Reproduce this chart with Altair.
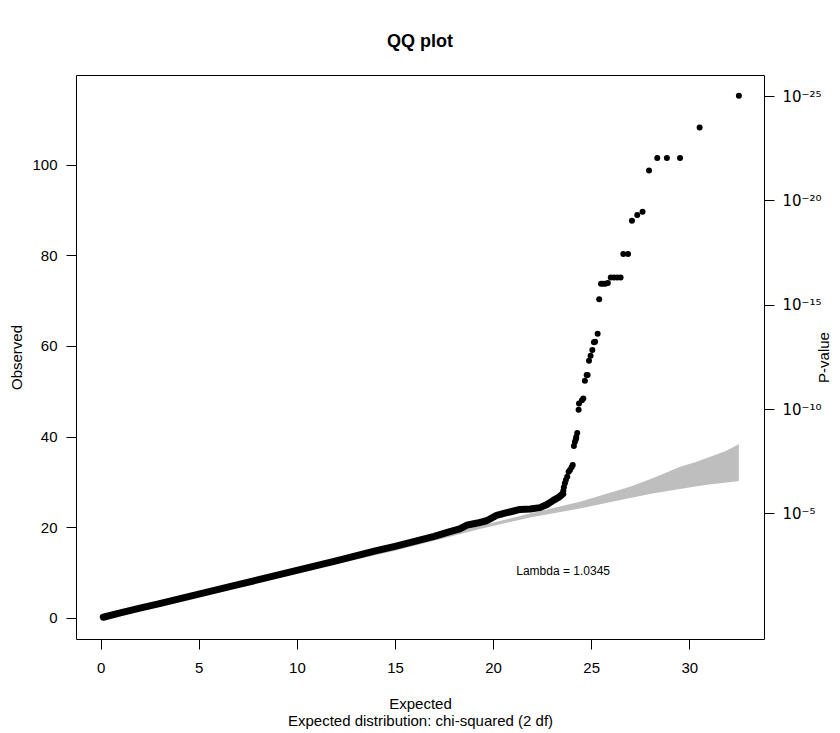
import altair as alt
import pandas as pd
import math

# ---- data ----
bulk_expected = [0.13, 1, 2, 3, 4, 5, 6, 7, 8, 9, 10, 11, 12, 13, 14, 15, 16, 17,
                 17.8, 18.3, 18.65, 19.2, 19.67, 20.18, 20.6, 21.0, 21.37, 21.9,
                 22.39, 22.75, 23.07, 23.35, 23.55]
bulk_observed = [0.1, 1.05, 2.1, 3.1, 4.15, 5.2, 6.25, 7.3, 8.35, 9.4, 10.45, 11.5,
                 12.55, 13.65, 14.75, 15.75, 16.85, 17.95, 19.0, 19.6, 20.4, 20.9, 21.4,
                 22.6, 23.1, 23.5, 23.9, 24.0, 24.3, 25.0, 25.9, 26.6, 27.3]

tail_expected = [23.58, 23.61, 23.66, 23.71, 23.78, 23.85, 23.92, 24.0, 24.06, 24.12,
                 24.17, 24.22, 24.24, 24.29, 24.36, 24.38, 24.53, 24.6, 24.68, 24.77,
                 24.82, 24.89, 24.97, 25.06, 25.14, 25.2, 25.33, 25.41, 25.5, 25.6,
                 25.72, 25.85, 26.0, 26.17, 26.33, 26.5, 26.64, 26.88, 27.08, 27.35,
                 27.62, 27.95, 28.37, 28.86, 29.53, 30.53, 32.53]
tail_observed = [28.0, 28.8, 29.7, 30.4, 31.1, 32.2, 32.6, 33.2, 33.7, 37.9,
                 38.8, 39.4, 39.9, 40.8, 45.9, 47.3, 48.0, 48.4, 52.3, 53.6,
                 53.6, 56.7, 57.8, 59.1, 60.8, 60.9, 62.7, 70.3, 73.7, 73.7,
                 73.7, 73.9, 75.1, 75.1, 75.1, 75.1, 80.3, 80.3, 87.6, 88.9,
                 89.6, 98.7, 101.5, 101.5, 101.5, 108.2, 115.2]

band_expected = [0, 5, 10, 15, 19.33, 21.88, 24.43, 26.98, 28.2, 29.53, 30.3, 31.0,
                 31.8, 32.53]
band_lower = [0, 4.9, 9.85, 14.8, 19.6, 22.1, 24.1, 26.4, 27.45, 28.4, 28.95, 29.4,
              29.8, 30.2]
band_upper = [0.1, 5.1, 10.2, 15.3, 20.3, 23.0, 25.6, 28.9, 30.9, 33.3, 34.3, 35.4,
              36.7, 38.3]

x_ticks = [0, 5, 10, 15, 20, 25, 30]
y_ticks = [0, 20, 40, 60, 80, 100]
p_exponents = [5, 10, 15, 20, 25]
p_labels = ["10\u207b\u2075", "10\u207b\u00b9\u2070", "10\u207b\u00b9\u2075",
            "10\u207b\u00b2\u2070", "10\u207b\u00b2\u2075"]
lambda_x = [23.57]
lambda_y = [10.3]
lambda_text = ["Lambda = 1.0345"]

FONT = "Liberation Sans"
XDOM = [-1.259, 33.81]
YDOM = [-4.70, 119.80]

band_df = pd.DataFrame({"e": band_expected, "lo": band_lower, "hi": band_upper})
bulk_df = pd.DataFrame({"e": bulk_expected, "o": bulk_observed})
tail_df = pd.DataFrame({"e": tail_expected, "o": tail_observed})
lam_df = pd.DataFrame({"e": lambda_x, "o": lambda_y, "t": lambda_text})
# chi-squared (2 df) statistic for p = 10^-k is 2*k*ln(10)
p_pos = [2 * k * math.log(10) for k in p_exponents]
p_df = pd.DataFrame({"o": p_pos, "lab": p_labels})

xscale = alt.Scale(domain=XDOM, nice=False, zero=False)
yscale = alt.Scale(domain=YDOM, nice=False, zero=False)

x_axis = alt.Axis(values=x_ticks, title=["Expected", "Expected distribution: chi-squared (2 df)"],
                  grid=False, domain=False, tickSize=10, tickColor="black",
                  labelPadding=11, labelFontSize=15, labelFont=FONT, labelColor="black",
                  titleFontSize=15, titleFont=FONT, titleColor="black", titleFontWeight="normal",
                  titleLineHeight=17, titleBaseline="top", titleY=57, titleX=344)
y_axis = alt.Axis(values=y_ticks, title="Observed", grid=False, domain=False,
                  tickSize=10, tickColor="black", labelPadding=9, labelFontSize=15,
                  labelFont=FONT, labelColor="black", titleFontSize=15, titleFont=FONT,
                  titleColor="black", titleFontWeight="normal", titleX=-52, titleY=282)

band = alt.Chart(band_df).mark_area(color="#BEBEBE", opacity=1).encode(
    x=alt.X("e:Q", scale=xscale, axis=x_axis),
    y=alt.Y("lo:Q", scale=yscale, axis=y_axis),
    y2="hi:Q",
)
bulk = alt.Chart(bulk_df).mark_line(color="black", strokeWidth=7, strokeCap="round",
                                    strokeJoin="round").encode(
    x=alt.X("e:Q", scale=xscale), y=alt.Y("o:Q", scale=yscale))
tail = alt.Chart(tail_df).mark_circle(color="black", size=36, opacity=1).encode(
    x=alt.X("e:Q", scale=xscale), y=alt.Y("o:Q", scale=yscale))
lam = alt.Chart(lam_df).mark_text(font=FONT, fontSize=12, color="black").encode(
    x=alt.X("e:Q", scale=xscale), y=alt.Y("o:Q", scale=yscale), text="t:N")

left = alt.layer(band, bulk, tail, lam)

expr = "''"
for pos, lab in zip(reversed(p_pos), reversed(p_labels)):
    expr = f"abs(datum.value - {pos:.4f}) < 0.5 ? '{lab}' : ({expr})"

right = alt.Chart(p_df).mark_point(opacity=0).encode(
    x=alt.value(0),
    y=alt.Y("o:Q", scale=alt.Scale(domain=YDOM, nice=False, zero=False),
            axis=alt.Axis(orient="right", values=p_pos, labelExpr=expr, title="P-value",
                          grid=False, domain=False, tickSize=10, tickColor="black",
                          labelPadding=8, labelFontSize=15, labelFont="DejaVu Sans",
                          labelColor="black", titleFontSize=15, titleFont=FONT,
                          titleColor="black", titleFontWeight="normal",
                          titleAngle=270, titleBaseline="top", titleX=52, titleY=282)),
)

chart = alt.layer(left, right).resolve_scale(y="independent").properties(
    width=688, height=564,
    background="white",
    title=alt.TitleParams("QQ plot", fontSize=18, fontWeight="bold", font=FONT,
                          color="black", anchor="middle", baseline="alphabetic", offset=10),
    padding={"left": 68, "top": 67, "right": 68, "bottom": 90},
    autosize=alt.AutoSizeParams(type="none"),
).configure_view(stroke="black", strokeWidth=1)

chart.save("out.html", embed_options={"renderer": "svg", "actions": False})
